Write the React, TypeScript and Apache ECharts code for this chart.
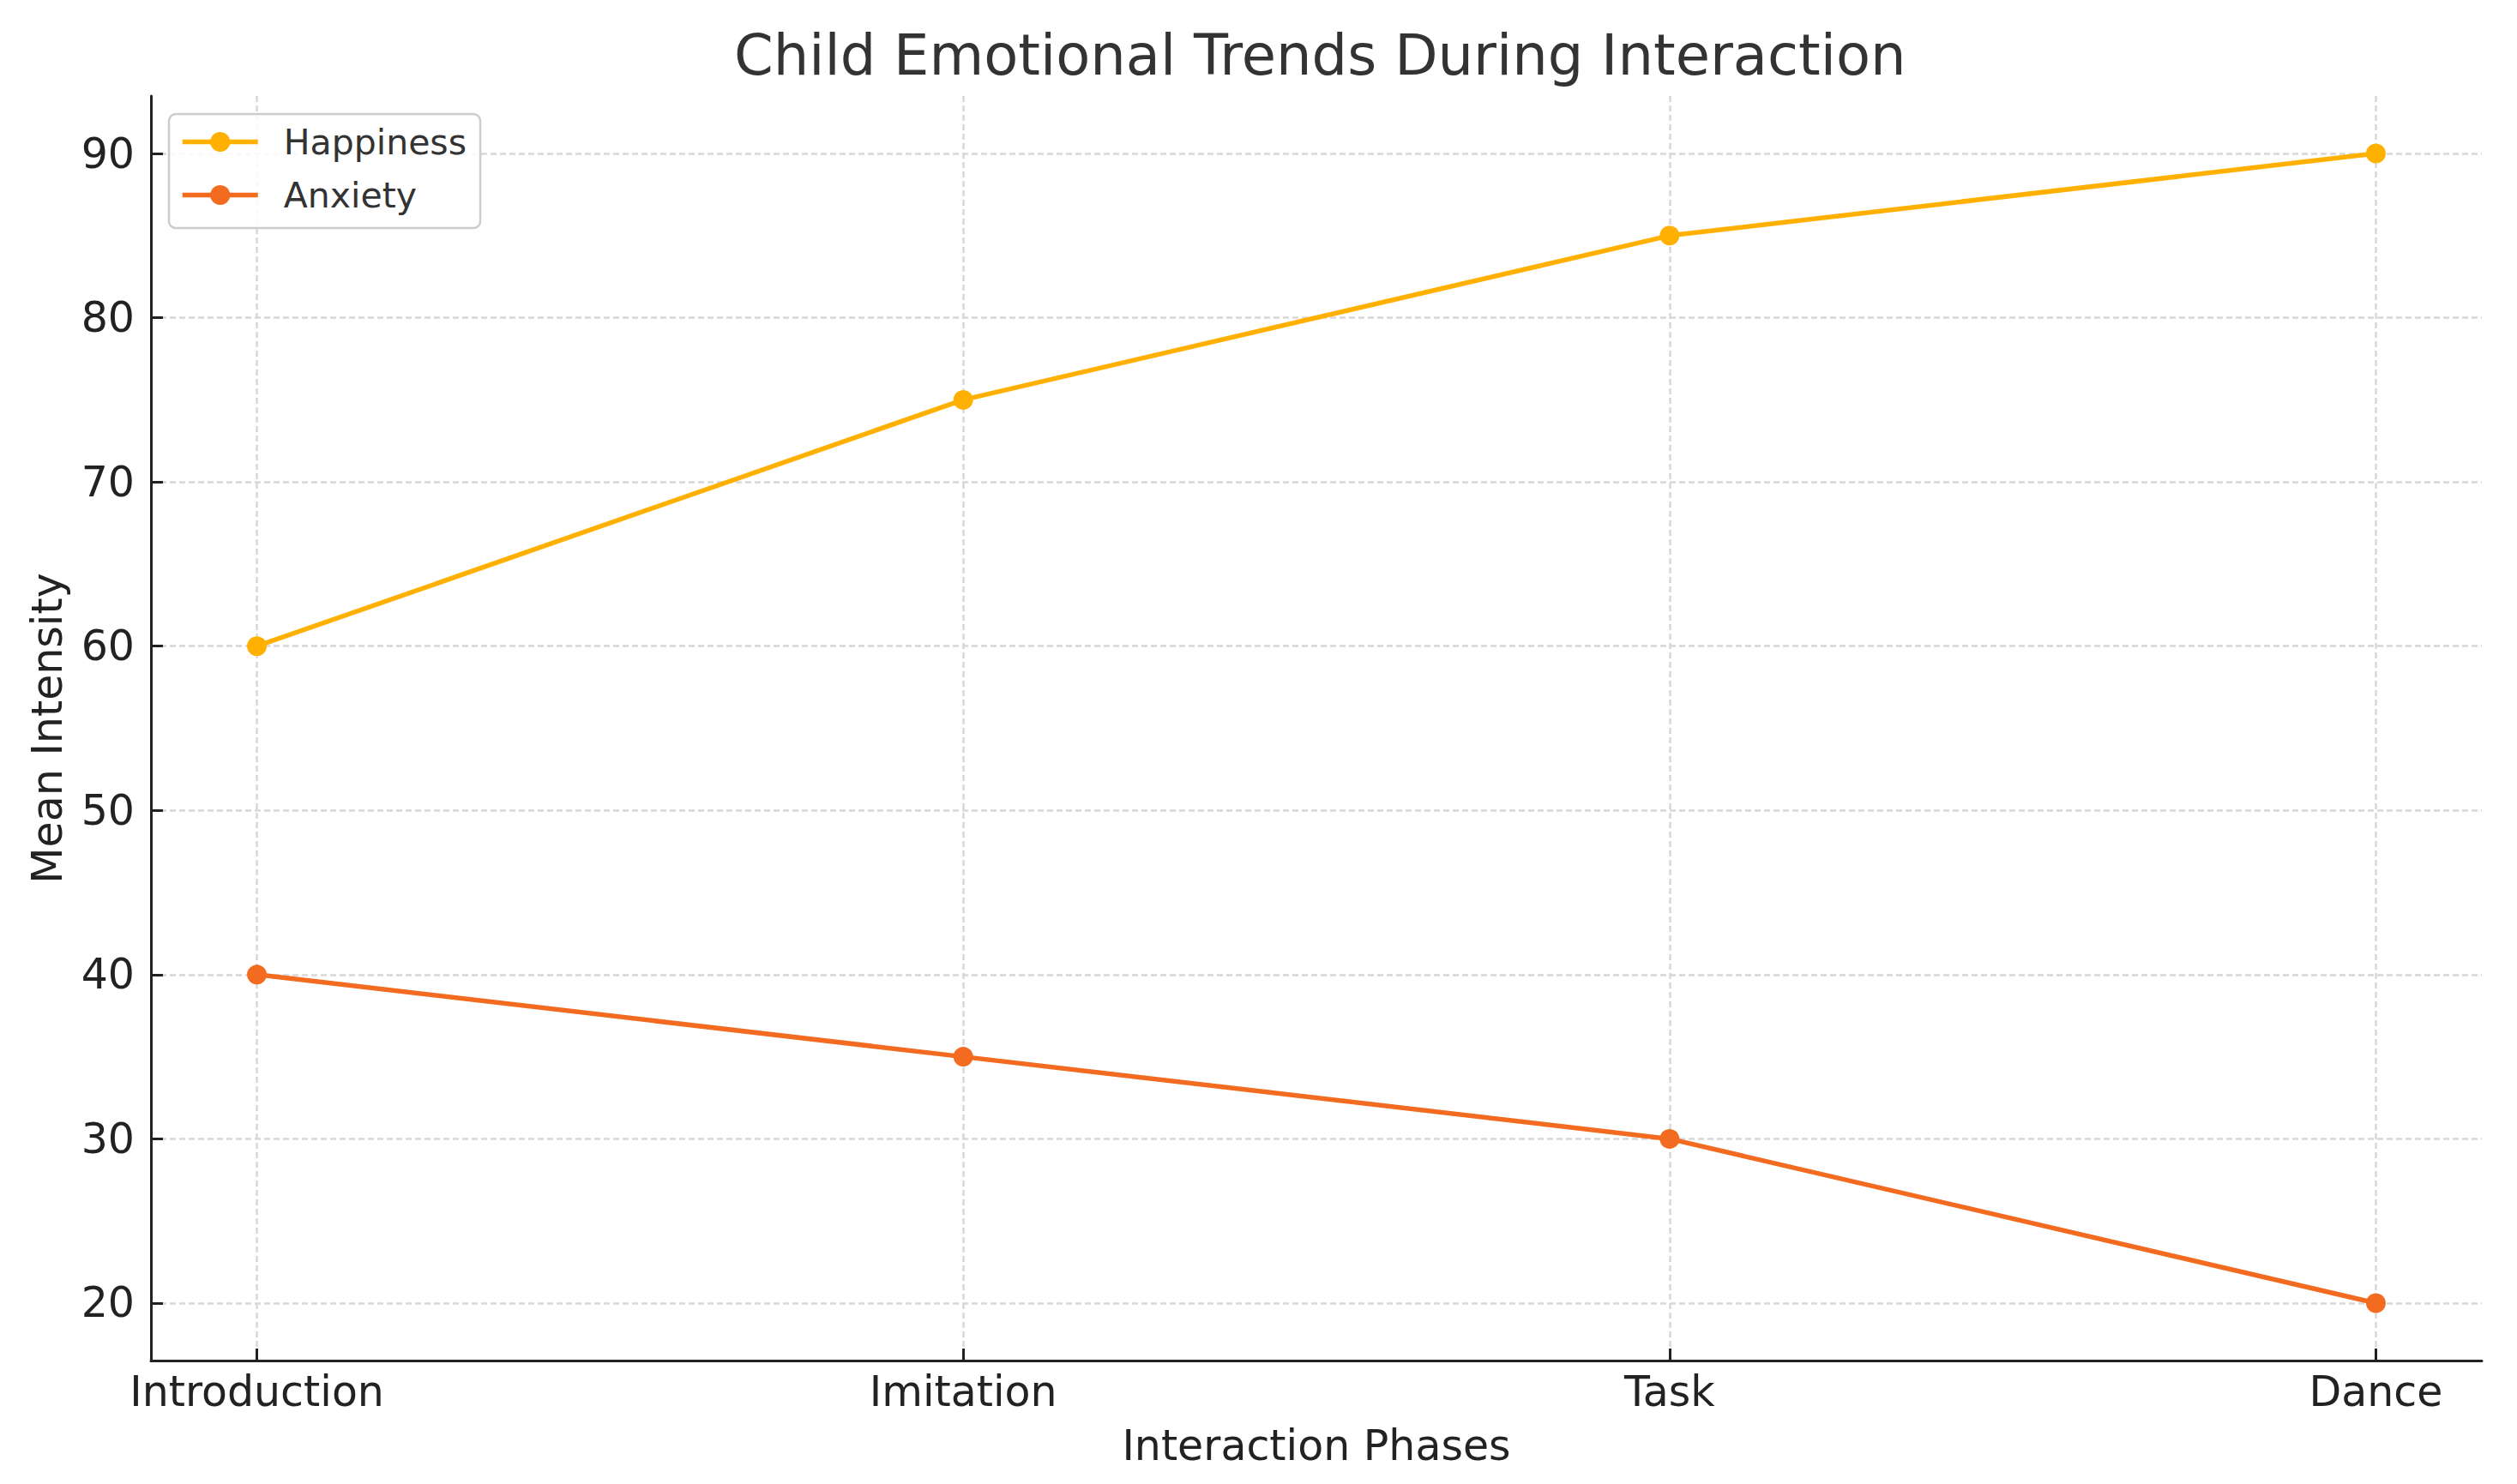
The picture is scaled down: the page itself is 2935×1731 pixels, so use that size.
import React, { useEffect, useRef } from "react";
import * as echarts from "echarts";

const phases = ["Introduction", "Imitation", "Task", "Dance"];
const happiness = [60, 75, 85, 90];
const anxiety = [40, 35, 30, 20];
const yTicks = [20, 30, 40, 50, 60, 70, 80, 90];
const xTicks = [0, 1, 2, 3];

const FONT = "DejaVu Sans";
const HAPPY_COLOR = "#FFB000";
const ANX_COLOR = "#F26B21";

export default function App() {
  const ref = useRef<HTMLDivElement>(null);

  useEffect(() => {
    document.body.style.margin = "0";
    const chart = echarts.init(ref.current!, null, { renderer: "svg" });
    const axisLineStyle = { color: "#222222", width: 3 };
    const gridLine = { color: "#d8d8d8", width: 2.5, type: [7, 4] as any };
    const option: any = {
      animation: false,
      backgroundColor: "#ffffff",
      title: {
        text: "Child Emotional Trends During Interaction",
        left: 851,
        top: 26,
        textStyle: { fontFamily: FONT, fontSize: 65.5, fontWeight: "normal", color: "#333333" },
      },
      legend: {
        left: 197,
        top: 133,
        orient: "vertical",
        itemWidth: 88,
        itemHeight: 29,
        itemGap: 21,
        padding: [12, 16, 18, 13],
        backgroundColor: "rgba(255,255,255,0.85)",
        borderColor: "#cccccc",
        borderWidth: 2.5,
        borderRadius: 8,
        lineStyle: { width: 5.5 },
        textStyle: {
          fontFamily: FONT,
          fontSize: 41,
          color: "#333333",
          lineHeight: 41,
          padding: [0, 0, 0, 25],
        },
        data: ["Happiness", "Anxiety"],
      },
      grid: {
        left: 176,
        right: 41,
        top: 112,
        bottom: 144,
        containLabel: false,
        outerBoundsMode: "none",
      },
      xAxis: {
        type: "value",
        min: -0.15,
        max: 3.15,
        name: "Interaction Phases",
        nameLocation: "middle",
        nameGap: 75,
        nameTextStyle: { fontFamily: FONT, fontSize: 49, color: "#222222" },
        axisLine: { show: true, onZero: false, lineStyle: axisLineStyle },
        axisTick: { show: true, inside: true, length: 14, lineStyle: axisLineStyle, customValues: xTicks },
        axisLabel: {
          customValues: xTicks,
          margin: 12,
          fontFamily: FONT,
          fontSize: 49,
          color: "#222222",
          formatter: (v: number) => phases[Math.round(v)] ?? "",
        },
        splitLine: { show: true, lineStyle: gridLine },
      },
      yAxis: {
        type: "value",
        min: 16.5,
        max: 93.5,
        name: "Mean Intensity",
        nameLocation: "middle",
        nameGap: 96,
        nameTextStyle: { fontFamily: FONT, fontSize: 49, color: "#222222" },
        axisLine: { show: true, onZero: false, lineStyle: axisLineStyle },
        axisTick: { show: true, inside: true, length: 14, lineStyle: axisLineStyle, customValues: yTicks },
        axisLabel: {
          customValues: yTicks,
          margin: 19,
          fontFamily: FONT,
          fontSize: 49,
          color: "#222222",
        },
        splitLine: { show: true, lineStyle: gridLine },
      },
      series: [
        {
          name: "Happiness",
          type: "line",
          data: happiness.map((v, i) => [i, v]),
          symbol: "circle",
          symbolSize: 23,
          lineStyle: { color: HAPPY_COLOR, width: 5.5 },
          itemStyle: { color: HAPPY_COLOR },
          z: 3,
        },
        {
          name: "Anxiety",
          type: "line",
          data: anxiety.map((v, i) => [i, v]),
          symbol: "circle",
          symbolSize: 23,
          lineStyle: { color: ANX_COLOR, width: 5.5 },
          itemStyle: { color: ANX_COLOR },
          z: 4,
        },
      ],
    };
    chart.setOption(option);
    return () => chart.dispose();
  }, []);

  return <div ref={ref} style={{ width: "2935px", height: "1731px" }} />;
}
